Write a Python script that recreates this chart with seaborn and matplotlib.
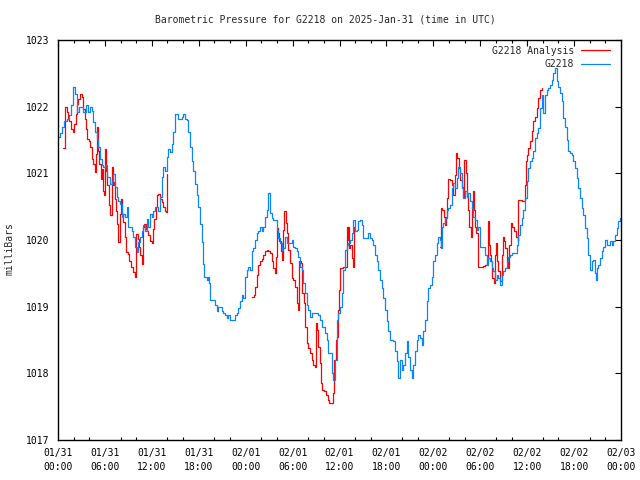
import matplotlib
matplotlib.use('Agg')
import matplotlib.pyplot as plt
import seaborn as sns
import numpy as np

# ---------------- data (hours since 2025-01-31 00:00 UTC, millibars) ----------------
blue_hours = [0.05, 0.26, 0.47, 0.77, 1.11, 1.41, 1.66, 1.96, 2.17, 2.39, 2.69, 2.94, 3.24, 3.54, 3.88,
              4.09, 4.31, 4.52, 4.73, 4.94, 5.16, 5.37, 5.58, 5.80, 6.01, 6.22, 6.44, 6.65, 6.86, 7.08,
              7.29, 7.50, 7.72, 7.93, 8.14, 8.35, 8.57, 8.78, 8.99, 9.21, 9.42, 9.63, 9.85, 10.06, 10.27,
              10.49, 10.70, 10.91, 11.13, 11.34, 11.55, 11.76, 11.98, 12.19, 12.40, 12.62, 12.83, 13.04,
              13.26, 13.47, 13.68, 13.90, 14.11, 14.32, 14.54, 14.75, 14.96, 15.18, 15.39, 15.60, 15.81,
              16.03, 16.24, 16.45, 16.67, 16.88, 17.09, 17.31, 17.52, 17.73, 17.95, 18.16, 18.37, 18.58,
              18.71, 19.01, 19.22, 19.31, 19.44, 19.86, 20.08, 20.29, 20.50, 20.72, 20.93, 21.14, 21.36,
              21.57, 21.78, 21.99, 22.42, 22.63, 22.85, 23.06, 23.27, 23.49, 23.70, 23.91, 24.13, 24.34,
              24.55, 24.77, 24.98, 25.19, 25.40, 25.62, 25.83, 26.04, 26.26, 26.47, 26.68, 26.90, 27.11,
              27.32, 27.54, 27.75, 27.96, 28.18, 28.39, 28.60, 28.81, 29.03, 29.24, 29.45, 29.67, 29.88,
              30.09, 30.31, 30.52, 30.73, 30.95, 31.16, 31.37, 31.59, 31.80, 32.01, 32.23, 32.44, 32.65,
              32.86, 33.08, 33.29, 33.50, 33.72, 33.93, 34.14, 34.36, 34.57, 34.78, 35.00, 35.21, 35.42,
              35.64, 35.85, 36.06, 36.27, 36.49, 36.70, 36.91, 37.13, 37.34, 37.55, 37.77, 37.98, 38.19,
              38.41, 38.62, 38.83, 39.04, 39.47, 39.68, 39.90, 40.11, 40.32, 40.54, 40.75, 40.96, 41.18,
              41.39, 41.60, 41.82, 42.03, 42.24, 42.46, 42.88, 43.09, 43.31, 43.52, 43.73, 43.95, 44.16,
              44.37, 44.59, 44.80, 45.01, 45.23, 45.44, 45.65, 45.87, 46.08, 46.29, 46.51, 46.72, 46.93,
              47.14, 47.36, 47.57, 47.78, 48.00, 48.21, 48.42, 48.64, 48.85, 48.98, 49.06, 49.27, 49.49,
              49.70, 49.91, 50.13, 50.34, 50.55, 50.77, 50.98, 51.19, 51.41, 51.62, 51.83, 52.05, 52.26,
              52.47, 52.69, 52.90, 53.11, 53.32, 53.54, 53.75, 53.96, 54.39, 54.60, 54.82, 55.03, 55.24,
              55.46, 55.67, 55.88, 56.10, 56.31, 56.52, 56.73, 56.95, 57.16, 57.37, 57.59, 57.80, 58.01,
              58.23, 58.44, 58.65, 58.87, 59.08, 59.29, 59.51, 59.72, 59.93, 60.14, 60.36, 60.57, 60.78,
              61.00, 61.21, 61.42, 61.64, 61.85, 62.06, 62.28, 62.49, 62.70, 62.92, 63.13, 63.34, 63.55,
              63.77, 63.98, 64.19, 64.41, 64.62, 64.83, 65.05, 65.26, 65.47, 65.69, 65.90, 66.11, 66.33,
              66.54, 66.75, 66.96, 67.18, 67.39, 67.60, 67.82, 68.03, 68.24, 68.46, 68.67, 68.76, 68.88,
              69.10, 69.31, 69.52, 69.74, 69.95, 70.16, 70.38, 70.59, 70.80, 71.02, 71.23, 71.44, 71.65,
              71.87]
blue_values = [1021.55, 1021.60, 1021.69, 1021.79, 1021.82, 1021.87, 1022.02, 1022.29, 1022.19, 1021.92,
               1022.00, 1022.00, 1021.92, 1022.02, 1021.92, 1022.00, 1021.94, 1021.77, 1021.62, 1021.52,
               1021.39, 1021.22, 1021.12, 1021.09, 1021.12, 1020.94, 1020.94, 1020.84, 1020.89, 1020.99,
               1020.79, 1020.64, 1020.59, 1020.54, 1020.34, 1020.39, 1020.34, 1020.49, 1020.19, 1020.19,
               1020.14, 1020.04, 1019.89, 1019.82, 1019.97, 1020.04, 1020.14, 1020.22, 1020.14, 1020.32,
               1020.19, 1020.39, 1020.34, 1020.44, 1020.49, 1020.49, 1020.44, 1020.64, 1020.94, 1021.09,
               1021.04, 1021.24, 1021.37, 1021.32, 1021.44, 1021.62, 1021.89, 1021.89, 1021.82, 1021.82,
               1021.85, 1021.89, 1021.82, 1021.80, 1021.62, 1021.39, 1021.19, 1021.04, 1020.84, 1020.67,
               1020.49, 1020.24, 1019.97, 1019.64, 1019.44, 1019.40, 1019.45, 1019.35, 1019.10, 1019.10,
               1019.03, 1018.93, 1019.00, 1019.00, 1018.93, 1018.90, 1018.88, 1018.83, 1018.88, 1018.80,
               1018.80, 1018.88, 1018.90, 1018.98, 1019.08, 1019.18, 1019.13, 1019.45, 1019.55, 1019.60,
               1019.55, 1019.83, 1019.88, 1020.00, 1020.10, 1020.13, 1020.20, 1020.13, 1020.20, 1020.35,
               1020.45, 1020.70, 1020.40, 1020.33, 1020.30, 1020.30, 1020.15, 1020.03, 1019.95, 1019.85,
               1019.88, 1020.05, 1019.95, 1019.95, 1019.95, 1020.00, 1019.90, 1019.88, 1019.83, 1019.75,
               1019.60, 1019.55, 1019.35, 1019.20, 1019.03, 1018.95, 1018.85, 1018.90, 1018.90, 1018.90,
               1018.90, 1018.88, 1018.80, 1018.70, 1018.70, 1018.60, 1018.50, 1018.30, 1018.30, 1018.00,
               1017.90, 1018.20, 1018.80, 1018.90, 1019.00, 1019.20, 1019.55, 1019.85, 1019.93, 1019.95,
               1020.00, 1020.10, 1020.30, 1020.13, 1020.15, 1020.28, 1020.30, 1020.23, 1020.03, 1020.03,
               1020.10, 1020.03, 1020.00, 1019.93, 1019.78, 1019.68, 1019.55, 1019.40, 1019.28, 1019.13,
               1018.95, 1018.78, 1018.63, 1018.50, 1018.48, 1018.33, 1018.18, 1017.93, 1018.20, 1018.05,
               1018.13, 1018.30, 1018.48, 1018.25, 1018.05, 1017.93, 1018.13, 1018.33, 1018.50, 1018.58,
               1018.53, 1018.43, 1018.63, 1018.80, 1019.08, 1019.28, 1019.33, 1019.45, 1019.68, 1019.78,
               1019.95, 1020.05, 1020.00, 1019.88, 1020.20, 1020.25, 1020.33, 1020.45, 1020.48, 1020.53,
               1020.78, 1020.85, 1020.78, 1020.93, 1021.10, 1021.00, 1020.78, 1020.63, 1020.73, 1020.65,
               1020.70, 1020.58, 1020.48, 1020.35, 1020.30, 1020.15, 1020.20, 1019.90, 1019.90, 1019.78,
               1019.63, 1019.73, 1019.68, 1019.58, 1019.53, 1019.40, 1019.48, 1019.43, 1019.33, 1019.48,
               1019.53, 1019.58, 1019.68, 1019.75, 1019.78, 1019.80, 1019.80, 1019.80, 1019.93, 1020.08,
               1020.23, 1020.33, 1020.45, 1020.63, 1020.88, 1021.08, 1021.18, 1021.23, 1021.33, 1021.53,
               1021.60, 1021.68, 1021.98, 1022.18, 1021.90, 1022.18, 1022.25, 1022.28, 1022.33, 1022.40,
               1022.50, 1022.58, 1022.38, 1022.30, 1022.20, 1022.08, 1021.83, 1021.70, 1021.50, 1021.33,
               1021.30, 1021.28, 1021.18, 1021.08, 1020.93, 1020.78, 1020.63, 1020.48, 1020.38, 1020.18,
               1020.03, 1019.78, 1019.55, 1019.68, 1019.70, 1019.50, 1019.40, 1019.58, 1019.63, 1019.73,
               1019.83, 1019.90, 1020.00, 1019.93, 1019.93, 1019.98, 1019.93, 1019.98, 1020.08, 1020.18,
               1020.28, 1020.33]

# Analysis series, three separate segments (gaps between them)
red1_hours = [0.68, 0.81, 0.90, 1.11, 1.24, 1.41, 1.66, 1.88, 2.09, 2.26, 2.43, 2.60, 2.81, 3.03, 3.24,
              3.45, 3.58, 3.71, 3.96, 4.13, 4.31, 4.52, 4.73, 4.82, 4.94, 5.07, 5.24, 5.46, 5.58, 5.71,
              5.88, 6.01, 6.14, 6.31, 6.52, 6.69, 6.86, 6.99, 7.12, 7.29, 7.42, 7.54, 7.72, 7.89, 8.01,
              8.14, 8.35, 8.57, 8.70, 8.91, 9.08, 9.34, 9.63, 9.85, 9.97, 10.19, 10.36, 10.53, 10.70,
              10.83, 11.04, 11.21, 11.38, 11.55, 11.76, 11.98, 12.19, 12.32, 12.49, 12.66, 12.83, 13.00,
              13.26, 13.47, 13.68, 13.85, 13.94]
red1_values = [1021.38, 1021.38, 1021.99, 1021.92, 1021.82, 1021.79, 1021.67, 1021.62, 1021.74, 1021.89,
               1022.04, 1022.12, 1022.19, 1022.15, 1021.97, 1021.82, 1021.67, 1021.52, 1021.49, 1021.39,
               1021.22, 1021.14, 1021.02, 1021.29, 1021.69, 1021.34, 1021.14, 1020.92, 1021.07, 1020.74,
               1020.67, 1021.37, 1021.04, 1020.82, 1020.52, 1020.37, 1021.09, 1020.82, 1020.87, 1020.62,
               1020.44, 1020.24, 1019.97, 1020.39, 1020.62, 1020.39, 1020.27, 1020.04, 1019.82, 1019.79,
               1019.69, 1019.59, 1019.52, 1019.44, 1020.09, 1020.02, 1019.89, 1019.77, 1019.64, 1020.19,
               1020.24, 1020.17, 1020.14, 1020.07, 1019.99, 1019.96, 1020.17, 1020.32, 1020.49, 1020.67,
               1020.69, 1020.62, 1020.57, 1020.49, 1020.44, 1020.42, 1020.99]
red2_hours = [24.77, 25.02, 25.19, 25.40, 25.62, 25.83, 26.04, 26.26, 26.47, 26.68, 26.90, 27.11, 27.32,
              27.54, 27.75, 27.88, 28.01, 28.18, 28.30, 28.52, 28.69, 28.81, 28.94, 29.11, 29.24, 29.45,
              29.67, 29.88, 30.09, 30.31, 30.52, 30.73, 30.86, 31.07, 31.24, 31.41, 31.59, 31.80, 32.01,
              32.23, 32.44, 32.65, 32.86, 32.95, 33.12, 33.29, 33.50, 33.63, 33.80, 34.06, 34.27, 34.48,
              34.70, 35.00, 35.12, 35.34, 35.51, 35.64, 35.76, 35.93, 36.06, 36.27, 36.49, 36.62, 36.79,
              36.91, 37.04, 37.13, 37.25, 37.38, 37.55, 37.68, 37.81, 37.89]
red2_values = [1019.15, 1019.18, 1019.30, 1019.48, 1019.63, 1019.69, 1019.71, 1019.78, 1019.83, 1019.85,
               1019.84, 1019.80, 1019.68, 1019.58, 1019.50, 1019.75, 1020.18, 1020.10, 1019.98, 1019.83,
               1019.70, 1020.15, 1020.43, 1020.25, 1020.10, 1019.85, 1019.65, 1019.43, 1019.40, 1019.30,
               1019.05, 1018.95, 1019.68, 1019.65, 1019.20, 1019.05, 1018.70, 1018.45, 1018.38, 1018.30,
               1018.20, 1018.13, 1018.10, 1018.75, 1018.65, 1018.40, 1018.15, 1017.85, 1017.75, 1017.73,
               1017.68, 1017.60, 1017.56, 1017.56, 1017.70, 1018.20, 1018.50, 1018.55, 1018.95, 1019.25,
               1019.58, 1019.58, 1019.59, 1019.60, 1019.60, 1020.20, 1020.00, 1020.20, 1019.88, 1019.93,
               1019.73, 1019.60, 1020.05, 1020.20]
red3_hours = [48.85, 48.93, 49.15, 49.32, 49.49, 49.62, 49.79, 49.91, 50.13, 50.34, 50.55, 50.77, 50.90,
              51.07, 51.24, 51.41, 51.62, 51.83, 51.96, 52.13, 52.30, 52.47, 52.60, 52.77, 52.90, 53.03,
              53.15, 53.32, 53.49, 53.67, 53.75, 53.96, 54.18, 54.39, 54.60, 54.82, 54.95, 55.12, 55.24,
              55.37, 55.54, 55.71, 55.88, 56.01, 56.14, 56.31, 56.52, 56.73, 56.86, 57.03, 57.16, 57.37,
              57.59, 57.72, 57.89, 58.10, 58.31, 58.53, 58.78, 58.87, 59.08, 59.29, 59.51, 59.72, 59.85,
              60.02, 60.14, 60.36, 60.57, 60.78, 61.00, 61.21, 61.42, 61.64, 61.85]
red3_values = [1019.90, 1020.48, 1020.45, 1020.35, 1020.23, 1020.35, 1020.63, 1020.91, 1020.90, 1020.83,
               1020.68, 1020.98, 1021.30, 1021.23, 1021.08, 1020.90, 1020.80, 1020.65, 1021.20, 1021.00,
               1020.65, 1020.45, 1020.20, 1020.05, 1020.50, 1020.73, 1020.45, 1020.20, 1020.10, 1019.85,
               1019.60, 1019.59, 1019.60, 1019.61, 1019.63, 1019.73, 1020.28, 1019.93, 1019.78, 1019.68,
               1019.43, 1019.35, 1019.78, 1019.95, 1019.68, 1019.53, 1019.38, 1019.78, 1020.05, 1019.98,
               1019.88, 1019.68, 1019.58, 1019.93, 1020.25, 1020.20, 1020.13, 1020.05, 1019.98, 1020.60,
               1020.60, 1020.58, 1020.58, 1020.83, 1021.18, 1021.28, 1021.38, 1021.48, 1021.63, 1021.78,
               1021.85, 1021.98, 1022.13, 1022.25, 1022.28]

tick_hours = [0, 6, 12, 18, 24, 30, 36, 42, 48, 54, 60, 66, 72]
tick_dates = ['01/31', '01/31', '01/31', '01/31', '02/01', '02/01', '02/01', '02/01',
              '02/02', '02/02', '02/02', '02/02', '02/03']
tick_times = ['00:00', '06:00', '12:00', '18:00', '00:00', '06:00', '12:00', '18:00',
              '00:00', '06:00', '12:00', '18:00', '00:00']
y_ticks = [1017, 1018, 1019, 1020, 1021, 1022, 1023]

title = 'Barometric Pressure for G2218 on 2025-Jan-31 (time in UTC)'
series_analysis = 'G2218 Analysis'
series_obs = 'G2218'

# ---------------- style ----------------
sns.set_theme(style='white')
plt.rcParams['font.family'] = ['DejaVu Sans Mono']
RED = '#ff0000'
BLUE = '#0a84ff'
FS = 7
LW = 0.9

fig = plt.figure(figsize=(6.4, 4.8), dpi=100)
ax = fig.add_axes([58 / 640, 40 / 480, 563 / 640, 400 / 480])

segments = [(red1_hours, red1_values), (red2_hours, red2_values), (red3_hours, red3_values)]
for i, (hx, hy) in enumerate(segments):
    sns.lineplot(x=hx, y=hy, ax=ax, color=RED, lw=LW, drawstyle='steps-post',
                 estimator=None, sort=False,
                 label=series_analysis if i == 0 else '_nolegend_')
sns.lineplot(x=blue_hours, y=blue_values, ax=ax, color=BLUE, lw=LW, drawstyle='steps-post',
             estimator=None, sort=False, label=series_obs)

ax.set_xlim(0, 72)
ax.set_ylim(1017, 1023)
ax.set_xticks(tick_hours)
ax.set_xticklabels([f'{d}\n{t}' for d, t in zip(tick_dates, tick_times)],
                   fontsize=FS, linespacing=1.5)
ax.set_xticks(np.arange(0, 73, 2), minor=True)
ax.set_yticks(y_ticks)
ax.set_yticklabels([str(v) for v in y_ticks], fontsize=FS)
ax.tick_params(axis='both', which='major', direction='in', top=True, right=True,
               length=4, width=0.8, color='black', labelcolor='black')
ax.tick_params(axis='x', which='major', pad=6)
ax.tick_params(axis='y', which='major', pad=6)
ax.tick_params(axis='x', which='minor', direction='in', top=True, bottom=True,
               length=2.5, width=0.8, color='black')
for s in ax.spines.values():
    s.set_color('black')
    s.set_linewidth(1.0)
ax.set_xlabel('')
ax.set_ylabel('')
ax.grid(False)

leg = ax.legend(loc='upper right', bbox_to_anchor=(0.9874, 0.9955), frameon=False,
                markerfirst=False, fontsize=FS, handlelength=3.0, handletextpad=0.7,
                labelspacing=0.35, borderaxespad=0.0, borderpad=0.4)
for t in leg.get_texts():
    t.set_ha('right')

fig.text(325 / 640, 1 - 20 / 480, title, ha='center', va='center', fontsize=FS)
fig.text(10 / 640, 1 - 249 / 480, 'milliBars', ha='center', va='center', rotation=90, fontsize=FS)

fig.savefig('out.png', dpi=100)
